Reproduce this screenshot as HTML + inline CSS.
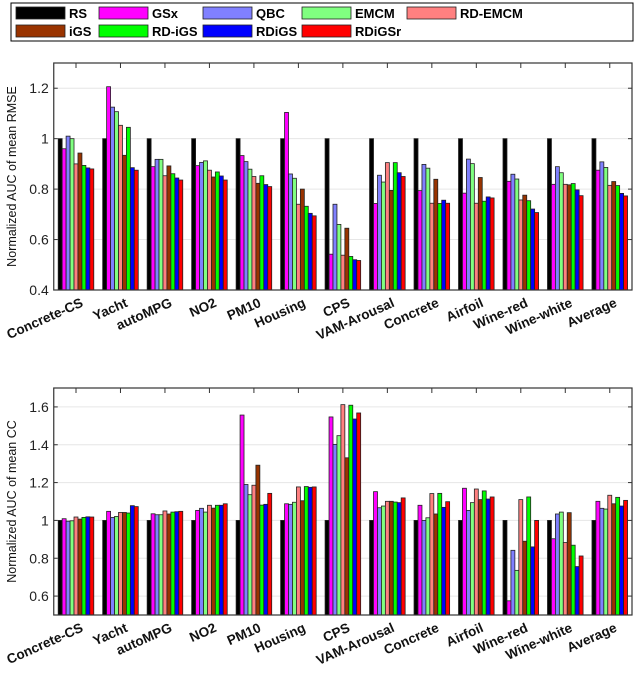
<!DOCTYPE html>
<html><head><meta charset="utf-8"><style>
body{margin:0;background:#fff;}
svg text{font-family:"Liberation Sans",Arial,sans-serif;}
</style></head><body>
<svg id="chart" width="640" height="682" xmlns="http://www.w3.org/2000/svg"></svg>
<script>
const categories=["Concrete-CS","Yacht","autoMPG","NO2","PM10","Housing","CPS","VAM-Arousal","Concrete","Airfoil","Wine-red","Wine-white","Average"];
const methods=["RS","GSx","QBC","EMCM","RD-EMCM","iGS","RD-iGS","RDiGS","RDiGSr"];
const colors=["#000000","#ff00ff","#8080ff","#80ff80","#ff8080","#993300","#00ff00","#0000ff","#ff0000"];
// RMSE values: rows = categories, cols = methods
const rmseValues=[
[1.0,0.96,1.01,1.0,0.90,0.943,0.894,0.884,0.88],
[1.0,1.206,1.125,1.107,1.053,0.934,1.045,0.885,0.875],
[1.0,0.889,0.918,0.918,0.853,0.892,0.861,0.844,0.836],
[1.0,0.893,0.906,0.912,0.875,0.848,0.868,0.852,0.836],
[1.0,0.933,0.909,0.879,0.85,0.823,0.853,0.818,0.81],
[1.0,1.104,0.86,0.843,0.74,0.80,0.732,0.704,0.694],
[1.0,0.542,0.74,0.66,0.538,0.645,0.533,0.52,0.517],
[1.0,0.743,0.855,0.828,0.905,0.795,0.905,0.865,0.85],
[1.0,0.794,0.898,0.883,0.744,0.839,0.743,0.756,0.744],
[1.0,0.784,0.919,0.901,0.744,0.846,0.752,0.769,0.765],
[1.0,0.831,0.859,0.84,0.757,0.776,0.754,0.721,0.707],
[1.0,0.819,0.889,0.865,0.819,0.817,0.822,0.797,0.774],
[1.0,0.875,0.908,0.886,0.815,0.83,0.814,0.783,0.773]];
const ccValues=[
[1.0,1.009,0.996,0.998,1.018,1.007,1.016,1.019,1.018],
[1.0,1.048,1.016,1.021,1.042,1.042,1.039,1.078,1.073],
[1.0,1.035,1.03,1.03,1.05,1.034,1.044,1.046,1.048],
[1.0,1.053,1.064,1.044,1.08,1.065,1.08,1.08,1.088],
[1.0,1.557,1.19,1.136,1.186,1.292,1.081,1.085,1.143],
[1.0,1.088,1.085,1.096,1.177,1.104,1.179,1.175,1.177],
[1.0,1.547,1.402,1.448,1.612,1.331,1.609,1.536,1.568],
[1.0,1.152,1.067,1.076,1.101,1.101,1.097,1.094,1.119],
[1.0,1.08,1.0,1.014,1.142,1.034,1.143,1.069,1.099],
[1.0,1.17,1.053,1.094,1.166,1.11,1.156,1.113,1.124],
[1.0,0.575,0.842,0.736,1.11,0.89,1.124,0.86,1.0],
[1.0,0.903,1.034,1.044,0.883,1.041,0.869,0.756,0.812],
[1.0,1.101,1.064,1.06,1.133,1.088,1.122,1.076,1.106]];
const rmseTicks=[0.4,0.6,0.8,1,1.2];
const ccTicks=[0.6,0.8,1,1.2,1.4,1.6];

const NS="http://www.w3.org/2000/svg";
const svg=document.getElementById('chart');
function mk(tag,attrs,parent){const e=document.createElementNS(NS,tag);for(const k in attrs)e.setAttribute(k,attrs[k]);(parent||svg).appendChild(e);return e;}

// legend
const lg=mk('g',{});


mk('rect',{x:11,y:3,width:622,height:38,fill:'#fff',stroke:'#000','stroke-width':1},lg);
const legX=[16,99,203,302,407];
methods.forEach((m,i)=>{
  const row=i<5?0:1, col=i<5?i:i-5;
  const x=legX[col], y=row?25:7;
  const g=mk('g',{},lg);
  
  
  mk('rect',{x:x,y:y,width:49,height:12,fill:colors[i],stroke:'#222','stroke-width':0.8},g);
  const t=mk('text',{x:x+53,y:y+11,'font-size':13,'font-weight':'bold',fill:'#000'},g);
  t.textContent=m;
});

function drawChart(name,vals,ticks,ymin,ymax,top,bot,ylabel){
  const L=53.75,R=632;
  const g=mk('g',{});
  
  
  const n=categories.length, sp=(R-L)/n;
  const xs=i=>L+sp*(i+0.5);
  const ys=v=>bot-(v-ymin)/(ymax-ymin)*(bot-top);
  ticks.forEach(t=>{
    mk('line',{x1:L,x2:R,y1:ys(t),y2:ys(t),stroke:'#e6e6e6','stroke-width':1},g);
    mk('line',{x1:L,x2:L+4,y1:ys(t),y2:ys(t),stroke:'#333'},g);
    mk('line',{x1:R-4,x2:R,y1:ys(t),y2:ys(t),stroke:'#333'},g);
    const tl=mk('text',{x:L-5,y:ys(t)+5,'font-size':14,'text-anchor':'end',fill:'#222'},g);
    
    
    tl.textContent=String(t);
  });
  const bw=sp*0.8/9;
  vals.forEach((row,ci)=>{
    row.forEach((v,mi)=>{
      const x=xs(ci)-sp*0.4+mi*bw;
      const y=ys(v);
      const r=mk('rect',{x:x,y:Math.min(y,bot),width:bw,height:Math.max(0,bot-y),fill:colors[mi],stroke:'#222','stroke-width':0.8},g);
      
      
    });
    mk('line',{x1:xs(ci),x2:xs(ci),y1:top,y2:top+5,stroke:'#333'},g);
    const tl=mk('text',{x:xs(ci)+8,y:bot+16,'font-size':13.5,'font-weight':'bold','text-anchor':'end',fill:'#111',transform:`rotate(-24 ${xs(ci)+8} ${bot+16})`},g);
    
    
    tl.textContent=categories[ci];
  });
  mk('rect',{x:L,y:top,width:R-L,height:bot-top,fill:'none',stroke:'#333','stroke-width':1.2},g);
  const cy=(top+bot)/2;
  const yl=mk('text',{x:16,y:cy,'font-size':12.5,'text-anchor':'middle',fill:'#111',transform:`rotate(-90 16 ${cy})`},g);
  
  
  yl.textContent=ylabel;
}
drawChart('rmse-chart',rmseValues,rmseTicks,0.4,1.3,63,290,'Normalized AUC of mean RMSE');
drawChart('cc-chart',ccValues,ccTicks,0.5,1.7,388,615,'Normalized AUC of mean CC');
</script>
</body></html>
